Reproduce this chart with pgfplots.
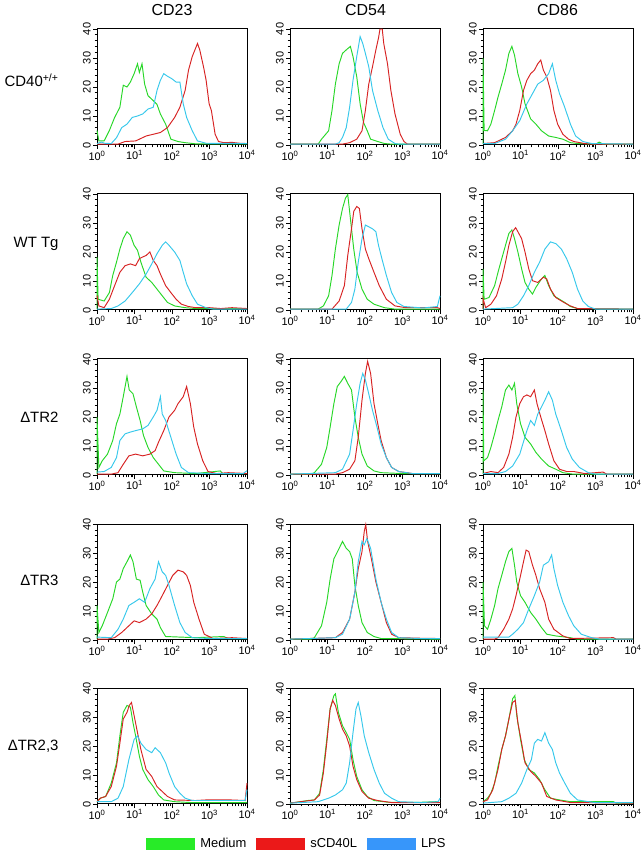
\documentclass[border=0pt]{standalone}
\usepackage{fontspec}
\setmainfont{Liberation Sans}
\usepackage{pgfplots}
\pgfplotsset{compat=1.18}
\definecolor{cg}{RGB}{40,215,40}
\definecolor{cr}{RGB}{215,35,35}
\definecolor{cc}{RGB}{55,200,235}
\definecolor{lg}{RGB}{40,235,40}
\definecolor{lr}{RGB}{235,25,25}
\definecolor{lb}{RGB}{55,150,250}
\pgfplotsset{panel/.style={
  width=150bp, height=116bp, scale only axis, anchor=south west,
  xmin=0, xmax=4, ymin=0, ymax=40,
  xtick={0,1,2,3,4},
  xticklabels={10\textsuperscript{0},10\textsuperscript{1},10\textsuperscript{2},10\textsuperscript{3},10\textsuperscript{4}},
  minor xtick={0.301,0.477,0.602,0.699,0.778,0.845,0.903,0.954,
               1.301,1.477,1.602,1.699,1.778,1.845,1.903,1.954,
               2.301,2.477,2.602,2.699,2.778,2.845,2.903,2.954,
               3.301,3.477,3.602,3.699,3.778,3.845,3.903,3.954},
  ytick={0,10,20,30,40},
  minor ytick={2,4,6,8,12,14,16,18,22,24,26,28,32,34,36,38},
  tick align=outside, tick pos=left,
  major tick length=4bp, minor tick length=2.5bp,
  every tick/.style={black, line width=0.6bp},
  axis line style={line width=1bp},
  yticklabel style={rotate=90, anchor=south, font=\fontsize{11}{12}\selectfont, inner sep=2bp},
  xticklabel style={font=\fontsize{11}{12}\selectfont, inner sep=1.5bp},
  /pgf/number format/assume math mode=true,
  clip=false,
  every axis plot/.append style={line width=0.95bp, forget plot},
}}
\begin{document}
\begin{tikzpicture}
\useasboundingbox (0,0) rectangle (644bp,852bp);
% titles
\node[anchor=base, font=\fontsize{16}{18}\selectfont] at (172bp,836bp) {CD23};
\node[anchor=base, font=\fontsize{16}{18}\selectfont] at (365.5bp,836bp) {CD54};
\node[anchor=base, font=\fontsize{16}{18}\selectfont] at (557.5bp,836bp) {CD86};
% row labels
\node[anchor=base east, font=\fontsize{15}{17}\selectfont] at (62bp,765.6bp) {CD40\textsuperscript{+/+}};
\node[anchor=base east, font=\fontsize{15}{17}\selectfont] at (62bp,604.6bp) {WT Tg};
\node[anchor=base east, font=\fontsize{15}{17}\selectfont] at (62bp,429.6bp) {ΔTR2};
\node[anchor=base east, font=\fontsize{15}{17}\selectfont] at (62bp,266.6bp) {ΔTR3};
\node[anchor=base east, font=\fontsize{15}{17}\selectfont] at (62bp,101.6bp) {ΔTR2,3};

% ---------------- Row 1 ----------------
\begin{axis}[panel, at={(97bp,707bp)}]
\addplot[cg] coordinates {(0,5)(0.05,1.4)(0.19,1.4)(0.33,5)(0.47,9.5)(0.61,13)(0.70,20.6)(0.80,20)(0.89,21.7)(0.99,24.6)(1.08,28)(1.13,25)(1.20,28)(1.27,21)(1.36,17)(1.50,15.3)(1.60,14)(1.69,10.7)(1.83,7.2)(1.97,2)(2.16,1.2)(2.35,0.8)(2.63,0.4)(4,0.4)};
\addplot[cr] coordinates {(0,0.3)(0.56,0.3)(0.75,1.2)(1.03,1.4)(1.31,3.1)(1.50,3.7)(1.69,4.3)(1.88,6)(2.07,9.5)(2.21,13)(2.35,18.8)(2.44,25.8)(2.54,30.5)(2.63,33.4)(2.68,35)(2.74,32.8)(2.84,27)(2.91,22.3)(2.99,14.2)(3.05,11.9)(3.15,3.7)(3.24,1.2)(3.38,0.8)(3.6,0.9)(3.8,0.6)(4,0.5)};
\addplot[cc] coordinates {(0,0.5)(0.12,1)(0.2,0.6)(0.38,0.5)(0.52,2.5)(0.66,6)(0.80,7.2)(0.94,9.5)(1.08,10)(1.22,10.7)(1.36,12.4)(1.50,13)(1.60,18.8)(1.69,22.3)(1.78,24.6)(1.88,23.7)(1.99,22.9)(2.11,21.7)(2.21,21.7)(2.30,14.2)(2.39,9.5)(2.54,4.9)(2.68,1.4)(2.91,0.6)(4,0.5)};
\end{axis}
\begin{axis}[panel, at={(290bp,707bp)}]
\addplot[cg] coordinates {(0,0.3)(0.75,0.3)(0.84,2)(1.03,4.9)(1.12,11.9)(1.21,21)(1.31,28)(1.40,31.6)(1.50,32.8)(1.61,34)(1.68,30.5)(1.78,23.5)(1.87,14.2)(1.96,7.8)(2.06,4.9)(2.15,2)(2.34,1.2)(2.52,0.5)(2.7,0.3)(4,0.3)};
\addplot[cr] coordinates {(0,0.3)(1.40,0.3)(1.59,0.8)(1.78,2)(1.92,4.9)(2.01,11.9)(2.10,21)(2.20,27)(2.29,32.8)(2.36,36.9)(2.40,40)(2.46,40)(2.50,35)(2.60,28)(2.69,18.8)(2.80,10.7)(2.94,3.7)(3.04,1.2)(3.13,0.3)(4,0.3)};
\addplot[cc] coordinates {(0,0.3)(1.21,0.3)(1.31,0.8)(1.40,2.6)(1.50,6)(1.59,13)(1.68,22.3)(1.78,30.5)(1.87,37.4)(1.94,35)(2.01,31.6)(2.10,27)(2.20,18.8)(2.34,11.9)(2.48,6)(2.62,2)(2.80,0.5)(2.9,0.3)(4,0.3)};
\end{axis}
\begin{axis}[panel, at={(483bp,707bp)}]
\addplot[cg] coordinates {(0,0.3)(0,30)(0.03,5)(0.12,4.9)(0.21,7.2)(0.31,11.9)(0.40,16.5)(0.5,21)(0.6,25.8)(0.69,31.6)(0.77,34)(0.84,31)(0.93,24.6)(1.03,20)(1.12,14.2)(1.27,9)(1.41,7.2)(1.56,4.9)(1.75,3.1)(1.94,2.6)(2.13,2)(2.33,0.8)(2.52,0.5)(3.0,0.3)(3.1,1)(3.2,0.3)(4,0.3)};
\addplot[cr] coordinates {(0,0.5)(0.31,0.8)(0.6,2.6)(0.79,4.9)(0.88,7.2)(0.98,11.9)(1.08,18.8)(1.17,22.3)(1.27,24.6)(1.37,25.8)(1.46,28)(1.54,29.3)(1.61,25.8)(1.70,23.5)(1.80,18.8)(1.89,11.9)(1.99,7.2)(2.13,3.7)(2.28,2)(2.42,1.2)(2.71,0.5)(2.9,0.3)(4,0.3)};
\addplot[cc] coordinates {(0,0.5)(0.31,0.5)(0.6,2)(0.79,4.9)(0.98,8.4)(1.17,14.2)(1.32,17.7)(1.46,21)(1.61,22.3)(1.75,24.6)(1.85,28)(1.94,22.3)(2.04,17.7)(2.18,13)(2.33,7.2)(2.47,3.1)(2.66,1.2)(2.90,0.5)(4,0.3)};
\end{axis}

% ---------------- Row 2 ----------------
\begin{axis}[panel, at={(97bp,542bp)}]
\addplot[cg] coordinates {(0,0.3)(0,18.3)(0.03,3.7)(0.19,3.1)(0.33,6)(0.42,11.9)(0.52,16.5)(0.61,21)(0.70,24.6)(0.80,27)(0.89,25.8)(0.99,22.3)(1.08,20.6)(1.17,16.5)(1.31,11.3)(1.46,9.5)(1.60,7.2)(1.74,4.9)(1.88,2.6)(2.07,1.4)(2.35,0.8)(2.63,0.5)(4,0.5)};
\addplot[cr] coordinates {(0,5)(0.05,1.4)(0.19,0.8)(0.33,3.7)(0.47,8.4)(0.61,13)(0.75,15.3)(0.89,15.9)(1.03,15.3)(1.13,17.7)(1.22,18.3)(1.31,18.8)(1.41,20)(1.50,17.1)(1.60,15.3)(1.69,12.4)(1.83,8.4)(1.97,6)(2.11,3.7)(2.25,2)(2.44,1.2)(2.63,0.8)(3.0,0.8)(3.3,0.5)(3.6,0.8)(4,0.5)};
\addplot[cc] coordinates {(0,0.3)(0.38,0.5)(0.56,1.4)(0.75,3.1)(0.94,6)(1.13,9)(1.31,12.4)(1.46,15.9)(1.60,19.4)(1.74,22.3)(1.83,23.5)(1.92,22.3)(2.07,20)(2.21,17.1)(2.30,13)(2.39,9)(2.54,4.9)(2.68,2)(2.91,0.8)(3.1,0.3)(4,0.3)};
\end{axis}
\begin{axis}[panel, at={(290bp,542bp)}]
\addplot[cg] coordinates {(0,0.3)(0.75,0.3)(0.89,1.4)(1.03,4.9)(1.12,11.9)(1.21,21)(1.31,29.3)(1.40,35)(1.48,38.6)(1.54,39.8)(1.61,31.6)(1.70,21)(1.79,13)(1.92,7.2)(2.06,3.7)(2.24,2)(2.52,0.8)(2.80,0.3)(4,0.3)};
\addplot[cr] coordinates {(0,0.3)(1.12,0.3)(1.31,3.1)(1.45,8.4)(1.54,18.8)(1.64,28)(1.70,34)(1.78,35.7)(1.85,35)(1.92,28)(2.01,21)(2.10,17.7)(2.24,13)(2.38,8.4)(2.57,3.7)(2.80,1.4)(3.08,0.8)(3.55,0.8)(3.93,0.8)(4,0.5)};
\addplot[cc] coordinates {(0,0.3)(1.50,0.3)(1.64,2.6)(1.73,7.2)(1.82,16.5)(1.92,24.6)(2.01,29.3)(2.10,28.7)(2.20,28)(2.29,27)(2.36,22.3)(2.45,17.7)(2.57,11.9)(2.71,6)(2.85,2.6)(3.04,1.2)(3.55,0.7)(3.93,1.2)(4,4.9)};
\end{axis}
\begin{axis}[panel, at={(483bp,542bp)}]
\addplot[cg] coordinates {(0,0.3)(0,14.2)(0.03,3.7)(0.16,4.3)(0.31,8.4)(0.40,13)(0.5,17.7)(0.6,22.3)(0.69,26.4)(0.77,27.6)(0.84,24.6)(0.93,20)(1.03,14.2)(1.12,9.5)(1.22,7.2)(1.32,5.5)(1.41,7.8)(1.56,10.7)(1.65,11.9)(1.75,8.4)(1.89,4.9)(2.04,3.7)(2.18,2.6)(2.33,1.2)(2.52,0.5)(4,0.3)};
\addplot[cr] coordinates {(0,0.3)(0,4)(0.07,0.8)(0.21,2)(0.36,4.9)(0.5,10.7)(0.6,16.5)(0.69,22.3)(0.79,27)(0.87,28.4)(0.93,27)(1.03,24.6)(1.12,20)(1.22,14.2)(1.32,10.1)(1.46,9.5)(1.61,11.3)(1.70,10.7)(1.80,7.2)(1.94,4.3)(2.13,2.8)(2.33,1.4)(2.52,0.5)(4,0.3)};
\addplot[cc] coordinates {(0,0.3)(0.79,0.8)(0.93,2)(1.08,4.9)(1.22,8.4)(1.37,13)(1.51,16.5)(1.65,21)(1.80,23.5)(1.94,22.9)(2.09,21)(2.23,17.7)(2.38,13)(2.52,7.2)(2.66,3.1)(2.81,1.2)(3.0,0.3)(4,0.3)};
\end{axis}

% ---------------- Row 3 ----------------
\begin{axis}[panel, at={(97bp,377bp)}]
\addplot[cg] coordinates {(0,0.3)(0,20)(0.05,2.6)(0.14,4.9)(0.28,7.2)(0.42,11.9)(0.52,17.7)(0.61,21)(0.70,27)(0.80,34)(0.86,29.3)(0.96,28)(1.05,23.5)(1.15,18.8)(1.24,13.6)(1.36,9.5)(1.50,6)(1.64,3.7)(1.78,1.4)(2.07,0.8)(2.63,0.5)(3.29,1.4)(3.35,0.5)(4,0.5)};
\addplot[cr] coordinates {(0,0.3)(0.38,0.3)(0.56,0.8)(0.70,3.7)(0.85,6.6)(1.03,7.2)(1.22,6.6)(1.41,7.2)(1.55,8.4)(1.64,11.3)(1.78,15.3)(1.92,20)(2.07,22.3)(2.16,24.6)(2.30,27)(2.39,30.5)(2.49,24.6)(2.58,16.5)(2.68,10.7)(2.82,4.9)(2.96,1.2)(3.19,0.5)(3.5,0.8)(4,0.5)};
\addplot[cc] coordinates {(0,1)(0.19,1.2)(0.38,2.6)(0.52,6)(0.61,11.9)(0.75,14.2)(0.89,14.8)(1.03,15.3)(1.22,15.9)(1.36,17.1)(1.50,20)(1.60,22.3)(1.69,27)(1.74,21)(1.83,18.8)(1.97,13)(2.11,7.2)(2.25,2.6)(2.44,0.8)(3.0,0.5)(3.9,0.5)(4,1.5)};
\end{axis}
\begin{axis}[panel, at={(290bp,377bp)}]
\addplot[cg] coordinates {(0,0.3)(0.56,0.3)(0.65,0.8)(0.84,3.7)(0.98,9.5)(1.07,16.5)(1.17,24.6)(1.26,30.5)(1.36,32.2)(1.45,34)(1.54,31.6)(1.64,29.3)(1.73,20)(1.82,13)(1.92,7.2)(2.06,3.1)(2.24,1.4)(2.43,0.8)(3.0,0.5)(4,0.5)};
\addplot[cr] coordinates {(0,0.3)(1.21,0.3)(1.40,0.8)(1.59,2)(1.73,4.9)(1.82,13)(1.92,25.8)(2.01,35)(2.07,39.2)(2.15,35)(2.24,24.6)(2.34,17.7)(2.43,11.9)(2.57,6)(2.71,2.6)(2.90,1.2)(3.27,0.5)(4,0.5)};
\addplot[cc] coordinates {(0,0.3)(1.21,0.8)(1.40,2)(1.59,7.2)(1.68,15.3)(1.78,24.6)(1.87,31.6)(1.94,35)(2.01,32.8)(2.10,28)(2.20,22.3)(2.32,16.5)(2.43,10.7)(2.57,6)(2.71,2.6)(2.90,1.2)(3.27,0.5)(4,0.5)};
\end{axis}
\begin{axis}[panel, at={(483bp,377bp)}]
\addplot[cg] coordinates {(0,0.3)(0,29.3)(0.02,4.9)(0.12,6)(0.21,9.5)(0.31,14.2)(0.40,18.8)(0.5,23.5)(0.6,29.3)(0.69,31)(0.77,29.3)(0.84,31.6)(0.90,24.6)(1.0,17.7)(1.12,13)(1.27,10.7)(1.41,7.8)(1.56,5.5)(1.75,3.1)(1.94,2)(2.13,0.8)(2.4,0.3)(4,0.3)};
\addplot[cr] coordinates {(0,0.5)(0.21,1.2)(0.40,0.8)(0.55,2.6)(0.69,7.2)(0.79,13)(0.88,20)(0.98,24.6)(1.08,27)(1.17,27.6)(1.27,27)(1.37,29.3)(1.44,24.6)(1.54,20)(1.65,15.3)(1.75,10.7)(1.89,4.9)(2.04,2)(2.23,1.2)(2.42,1.2)(2.71,0.5)(3.2,1)(3.3,0.3)(4,0.3)};
\addplot[cc] coordinates {(0,0.5)(0.4,0.5)(0.6,1.2)(0.79,3.1)(0.98,7.2)(1.17,15.3)(1.27,18.8)(1.37,17.1)(1.46,21)(1.56,23.5)(1.65,25.8)(1.75,28.7)(1.85,25.8)(1.94,21)(2.09,15.3)(2.23,9.5)(2.38,5.5)(2.57,2.6)(2.81,0.8)(3.0,0.3)(4,0.3)};
\end{axis}

% ---------------- Row 4 ----------------
\begin{axis}[panel, at={(97bp,212bp)}]
\addplot[cg] coordinates {(0,0.3)(0,11.9)(0.05,2.6)(0.14,4.9)(0.28,9.5)(0.42,14.2)(0.52,20)(0.61,21)(0.70,24.6)(0.80,27)(0.89,29.3)(0.96,27)(1.05,21)(1.15,20.6)(1.22,16.5)(1.31,11.9)(1.46,9)(1.60,7.2)(1.69,4.3)(1.83,1.2)(2.63,0.8)(3.38,1.2)(3.5,0.5)(4,0.5)};
\addplot[cr] coordinates {(0,0.3)(0.28,0.3)(0.47,0.8)(0.66,2.6)(0.85,4.9)(0.99,6.6)(1.13,6)(1.31,7.2)(1.46,9)(1.60,11.9)(1.74,15.3)(1.88,18.8)(2.02,22.3)(2.16,24.1)(2.30,23.5)(2.39,22.3)(2.49,18.8)(2.58,13)(2.72,7.2)(2.86,2)(3.10,0.5)(3.6,0.8)(4,0.5)};
\addplot[cc] coordinates {(0,1)(0.38,0.8)(0.56,3.7)(0.70,7.2)(0.85,11.9)(0.99,13)(1.13,14.2)(1.27,13)(1.41,17.7)(1.55,21)(1.64,27)(1.74,23.5)(1.83,22.3)(1.92,18.8)(2.07,11.9)(2.21,6)(2.35,2.6)(2.54,0.8)(3.0,0.5)(4,0.5)};
\end{axis}
\begin{axis}[panel, at={(290bp,212bp)}]
\addplot[cg] coordinates {(0,0.3)(0.56,0.3)(0.65,0.8)(0.84,4.9)(0.98,13)(1.07,21)(1.17,28)(1.31,31.6)(1.40,34)(1.50,31.6)(1.59,30.5)(1.66,28)(1.73,18.8)(1.82,11.9)(1.92,6)(2.06,2.6)(2.24,1.2)(2.43,0.5)(4,0.3)};
\addplot[cr] coordinates {(0,0.3)(1.21,0.8)(1.40,2.6)(1.59,7.2)(1.73,16.5)(1.82,24.6)(1.92,30.5)(1.98,37.4)(2.02,39.8)(2.07,34)(2.17,28)(2.29,20)(2.43,13)(2.57,6)(2.71,2)(2.90,0.8)(3.5,0.6)(4,0.5)};
\addplot[cc] coordinates {(0,0.3)(1.21,0.8)(1.40,2)(1.59,7.2)(1.73,16.5)(1.82,27)(1.92,34)(1.98,32.8)(2.05,35)(2.15,31.6)(2.29,21)(2.43,13)(2.57,7.2)(2.71,2.6)(2.90,0.8)(3.5,0.5)(4,0.5)};
\end{axis}
\begin{axis}[panel, at={(483bp,212bp)}]
\addplot[cg] coordinates {(0,0.3)(0,20)(0.04,4.9)(0.12,3.7)(0.21,7.2)(0.31,11.9)(0.40,17.7)(0.5,22.3)(0.6,27)(0.69,30.5)(0.77,31.6)(0.84,25.8)(0.90,20)(1.0,15.3)(1.12,13)(1.27,9.5)(1.41,7.2)(1.56,4.3)(1.70,2)(1.94,1.4)(2.33,0.8)(2.5,0.3)(4,0.3)};
\addplot[cr] coordinates {(0,0.3)(0.31,0.3)(0.40,0.8)(0.55,3.7)(0.69,7.2)(0.79,10.7)(0.88,15.3)(0.98,21)(1.08,27)(1.15,31)(1.22,30.5)(1.32,25.8)(1.41,22.3)(1.51,17.7)(1.65,13)(1.75,7.2)(1.89,3.7)(2.13,1.4)(2.33,0.5)(3.48,0.8)(3.55,0.3)(4,0.3)};
\addplot[cc] coordinates {(0,1)(0.69,1)(0.79,2)(0.93,3.7)(1.08,6)(1.22,10.7)(1.37,15.3)(1.51,20)(1.61,25.8)(1.75,27)(1.83,29.3)(1.89,24.6)(1.99,18.8)(2.13,13)(2.28,8.4)(2.42,4.9)(2.62,2)(2.90,0.8)(3.1,0.3)(4,0.3)};
\end{axis}

% ---------------- Row 5 ----------------
\begin{axis}[panel, at={(97bp,48bp)},
  legend style={at={(1.333,-0.345)}, anchor=center, draw=none, fill=none,
    legend columns=3, font=\fontsize{13}{14}\selectfont,
    /tikz/every odd column/.append style={column sep=3bp},
    /tikz/every even column/.append style={column sep=8bp}},
  legend image code/.code={\fill[#1] (0bp,-5.5bp) rectangle (48bp,5.5bp);}]
\addplot[cg] coordinates {(0,0.8)(0.09,2)(0.23,2.6)(0.38,7.2)(0.52,14.2)(0.61,23.5)(0.70,31.6)(0.80,34)(0.89,33.4)(0.96,28)(1.03,23.5)(1.13,16.5)(1.22,11.9)(1.36,8.4)(1.50,6)(1.64,3.1)(1.78,1.4)(2.07,0.8)(2.5,0.5)(4,0.5)};
\addplot[cr] coordinates {(0,0.8)(0.09,2)(0.23,2.6)(0.38,6)(0.52,13)(0.61,21)(0.70,29.3)(0.80,31.6)(0.86,34)(0.92,35)(0.99,30.5)(1.08,24.6)(1.17,18.8)(1.31,11.9)(1.46,9.5)(1.60,6)(1.74,4.3)(1.88,2.6)(2.07,1.4)(2.63,1.2)(2.91,1.4)(3.57,1.4)(3.95,1.2)(4,7.2)};
\addplot[cc] coordinates {(0,0.8)(0.38,0.8)(0.56,2)(0.70,6)(0.85,15.3)(0.99,22.3)(1.08,23.5)(1.17,21)(1.31,18.8)(1.46,17.7)(1.55,19.4)(1.69,17.7)(1.83,14.2)(1.92,10.7)(2.07,6)(2.21,3.7)(2.35,2)(2.54,1.2)(3.95,1.2)(4,5)};
\addlegendimage{lg}\addlegendentry{Medium}
\addlegendimage{lr}\addlegendentry{sCD40L}
\addlegendimage{lb}\addlegendentry{LPS}
\end{axis}
\begin{axis}[panel, at={(290bp,48bp)}]
\addplot[cg] coordinates {(0,0.3)(0.28,0.8)(0.47,1.2)(0.65,1.4)(0.79,3.7)(0.89,11.9)(0.98,22.3)(1.07,32.8)(1.17,37.4)(1.21,38)(1.29,31.6)(1.40,27)(1.50,24.6)(1.59,22.3)(1.68,15.3)(1.78,9.5)(1.92,4.9)(2.06,2.6)(2.24,1.2)(2.62,0.6)(3.5,0.6)(3.9,0.8)(4,0.5)};
\addplot[cr] coordinates {(0,0.3)(0.65,1.4)(0.79,3.1)(0.89,10.7)(0.98,21)(1.07,32.8)(1.14,35.7)(1.21,34)(1.31,29.3)(1.40,25.8)(1.50,23.5)(1.59,20)(1.68,13)(1.78,8.4)(1.92,4.3)(2.10,2)(2.34,1.2)(2.71,0.5)(4,0.5)};
\addplot[cc] coordinates {(0,0.3)(0.75,0.8)(1.03,2)(1.21,3.1)(1.40,4.9)(1.50,7.2)(1.59,14.2)(1.68,24.6)(1.76,32.8)(1.82,35)(1.89,30.5)(1.98,23.5)(2.10,17.7)(2.24,11.9)(2.38,7.2)(2.52,3.7)(2.71,2)(2.90,0.8)(3.5,0.5)(3.95,0.8)(4,2)};
\end{axis}
\begin{axis}[panel, at={(483bp,48bp)}]
\addplot[cg] coordinates {(0,0.8)(0.12,2)(0.21,3.7)(0.31,7.2)(0.40,13)(0.5,18.8)(0.6,23.5)(0.69,29.3)(0.79,36.3)(0.85,37.4)(0.90,30.5)(1.0,22.3)(1.10,15.3)(1.22,11.9)(1.37,10.7)(1.51,8.4)(1.65,4.9)(1.80,2)(2.04,1.4)(2.33,0.8)(3.48,0.8)(3.55,0.3)(4,0.3)};
\addplot[cr] coordinates {(0,0.8)(0.12,1.4)(0.26,4.9)(0.40,11.9)(0.5,18.8)(0.6,23.5)(0.71,30.5)(0.79,35)(0.86,35.7)(0.93,28)(1.03,21)(1.12,14.2)(1.27,11.3)(1.41,9.5)(1.56,7.2)(1.70,2.6)(1.94,1.4)(2.33,0.5)(4,0.3)};
\addplot[cc] coordinates {(0,0.3)(0.5,0.8)(0.69,2)(0.88,3.7)(1.03,7.2)(1.17,11.9)(1.29,15.3)(1.37,21)(1.46,22.3)(1.56,21.7)(1.65,24.6)(1.75,21)(1.85,18.8)(1.94,14.2)(2.04,10.7)(2.18,7.2)(2.33,3.7)(2.52,1.4)(2.81,0.8)(3.0,0.5)(4,0.5)};
\end{axis}
\end{tikzpicture}
\end{document}
